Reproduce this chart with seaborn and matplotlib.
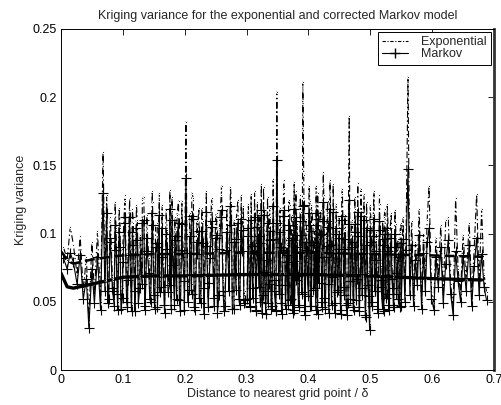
import numpy as np
import pandas as pd
import matplotlib
matplotlib.use("Agg")
import matplotlib.pyplot as plt
import seaborn as sns
from matplotlib.lines import Line2D

# distance to nearest grid point and kriging variances
dist_a = [0.004, 0.010, 0.015, 0.020, 0.026, 0.031, 0.036, 0.041, 0.045, 0.050,
          0.054, 0.059, 0.064, 0.068, 0.071]
markov_a = [0.082, 0.074, 0.086, 0.079, 0.063, 0.084, 0.052, 0.067, 0.031, 0.074,
            0.049, 0.083, 0.044, 0.130, 0.058]
expo_a = [0.090, 0.081, 0.105, 0.092, 0.070, 0.098, 0.058, 0.083, 0.037, 0.094,
          0.055, 0.102, 0.050, 0.160, 0.066]

dist_b = [0.074, 0.077, 0.080, 0.083, 0.086, 0.089, 0.091, 0.094, 0.097, 0.100,
          0.103, 0.106, 0.108, 0.111, 0.114, 0.117, 0.120, 0.122, 0.125, 0.128,
          0.131, 0.134, 0.136, 0.139, 0.142, 0.145, 0.148, 0.150, 0.153, 0.156,
          0.159, 0.162, 0.164, 0.167, 0.170, 0.173, 0.176, 0.178, 0.181, 0.184,
          0.187, 0.190, 0.193, 0.196, 0.199, 0.202, 0.205, 0.208, 0.211, 0.214,
          0.217, 0.220, 0.223, 0.226, 0.229, 0.232, 0.235, 0.238, 0.241, 0.244,
          0.247, 0.250, 0.253, 0.256, 0.259, 0.262, 0.265, 0.268, 0.271, 0.274,
          0.277, 0.280, 0.283, 0.286, 0.289, 0.292, 0.295, 0.298]
markov_b = [0.115, 0.052, 0.094, 0.060, 0.047, 0.088, 0.056, 0.101, 0.045, 0.079,
            0.108, 0.050, 0.066, 0.112, 0.043, 0.092, 0.058, 0.104, 0.049, 0.085,
            0.063, 0.110, 0.044, 0.097, 0.071, 0.050, 0.106, 0.055, 0.090, 0.046,
            0.114, 0.061, 0.083, 0.048, 0.100, 0.057, 0.118, 0.045, 0.077, 0.095,
            0.052, 0.108, 0.043, 0.088, 0.065, 0.141, 0.050, 0.098, 0.056, 0.111,
            0.044, 0.085, 0.102, 0.049, 0.093, 0.060, 0.116, 0.046, 0.082, 0.105,
            0.053, 0.097, 0.042, 0.089, 0.112, 0.058, 0.047, 0.101, 0.070, 0.120,
            0.045, 0.094, 0.059, 0.108, 0.048, 0.087, 0.103, 0.051]
expo_b = [0.128, 0.058, 0.110, 0.068, 0.052, 0.104, 0.063, 0.119, 0.050, 0.092,
          0.124, 0.056, 0.077, 0.126, 0.048, 0.108, 0.066, 0.121, 0.055, 0.099,
          0.072, 0.127, 0.049, 0.114, 0.082, 0.057, 0.123, 0.062, 0.106, 0.052,
          0.130, 0.070, 0.097, 0.054, 0.117, 0.064, 0.132, 0.051, 0.090, 0.112,
          0.059, 0.124, 0.048, 0.103, 0.075, 0.182, 0.057, 0.115, 0.063, 0.126,
          0.050, 0.100, 0.119, 0.055, 0.109, 0.068, 0.131, 0.052, 0.096, 0.122,
          0.060, 0.113, 0.047, 0.104, 0.128, 0.066, 0.053, 0.118, 0.081, 0.134,
          0.051, 0.110, 0.067, 0.125, 0.054, 0.102, 0.120, 0.058]

dist_b2 = [0.0755, 0.0795, 0.0835, 0.0875, 0.0915, 0.0955, 0.0995, 0.1035, 0.1075, 0.1115,
           0.1155, 0.1195, 0.1235, 0.1275, 0.1315, 0.1355, 0.1395, 0.1435, 0.1475, 0.1515,
           0.1555, 0.1595, 0.1635, 0.1675, 0.1715, 0.1755, 0.1795, 0.1835, 0.1875, 0.1915,
           0.1955, 0.1995, 0.2035, 0.2075, 0.2115, 0.2155, 0.2195, 0.2235, 0.2275, 0.2315,
           0.2355, 0.2395, 0.2435, 0.2475, 0.2515, 0.2555, 0.2595, 0.2635, 0.2675, 0.2715,
           0.2755, 0.2795, 0.2835, 0.2875, 0.2915, 0.2955]
markov_b2 = [0.049, 0.097, 0.058, 0.106, 0.044, 0.090, 0.053, 0.112, 0.046, 0.084,
             0.101, 0.043, 0.095, 0.060, 0.108, 0.047, 0.087, 0.052, 0.115, 0.045,
             0.093, 0.057, 0.104, 0.042, 0.089, 0.062, 0.110, 0.048, 0.098, 0.051,
             0.107, 0.044, 0.086, 0.059, 0.113, 0.046, 0.094, 0.053, 0.102, 0.041,
             0.091, 0.064, 0.109, 0.047, 0.099, 0.055, 0.117, 0.043, 0.088, 0.058,
             0.106, 0.045, 0.096, 0.052, 0.111, 0.049]
expo_b2 = [0.055, 0.112, 0.066, 0.123, 0.050, 0.104, 0.060, 0.128, 0.052, 0.097,
           0.118, 0.049, 0.110, 0.069, 0.125, 0.053, 0.101, 0.059, 0.131, 0.051,
           0.108, 0.065, 0.121, 0.048, 0.103, 0.071, 0.127, 0.054, 0.114, 0.058,
           0.124, 0.050, 0.100, 0.068, 0.130, 0.052, 0.109, 0.060, 0.119, 0.047,
           0.106, 0.074, 0.126, 0.053, 0.115, 0.063, 0.135, 0.049, 0.102, 0.066,
           0.123, 0.051, 0.111, 0.059, 0.128, 0.055]

dist_c = [0.301, 0.303, 0.306, 0.308, 0.310, 0.313, 0.315, 0.317, 0.320, 0.322,
          0.324, 0.327, 0.329, 0.331, 0.334, 0.336, 0.338, 0.341, 0.343, 0.345,
          0.347, 0.349, 0.352, 0.354, 0.356, 0.359, 0.361, 0.363, 0.366, 0.368,
          0.370, 0.373, 0.375, 0.377, 0.380, 0.382, 0.384, 0.387, 0.389, 0.391,
          0.394, 0.396, 0.398, 0.401, 0.403, 0.405, 0.408, 0.410, 0.412, 0.415,
          0.417, 0.419, 0.422, 0.424, 0.426, 0.429, 0.431, 0.433, 0.436, 0.438,
          0.440, 0.443, 0.445, 0.447, 0.450, 0.452, 0.454, 0.457, 0.459, 0.461,
          0.464, 0.466, 0.468, 0.471, 0.473, 0.475, 0.478, 0.480, 0.482, 0.485,
          0.487, 0.489, 0.492, 0.494, 0.496, 0.499, 0.501, 0.503, 0.506, 0.508,
          0.510, 0.513, 0.515, 0.517, 0.520, 0.522, 0.524, 0.527, 0.529, 0.531,
          0.534, 0.536, 0.538, 0.541, 0.543, 0.545, 0.548, 0.550]
markov_c = [0.052, 0.104, 0.046, 0.091, 0.060, 0.112, 0.043, 0.085, 0.098, 0.050,
            0.117, 0.055, 0.072, 0.041, 0.108, 0.063, 0.095, 0.047, 0.120, 0.058,
            0.044, 0.154, 0.062, 0.101, 0.049, 0.088, 0.113, 0.045, 0.079, 0.106,
            0.051, 0.097, 0.042, 0.118, 0.066, 0.090, 0.048, 0.109, 0.056, 0.120,
            0.040, 0.094, 0.071, 0.115, 0.047, 0.102, 0.059, 0.087, 0.044, 0.111,
            0.064, 0.099, 0.046, 0.123, 0.053, 0.083, 0.105, 0.042, 0.092, 0.068,
            0.116, 0.049, 0.100, 0.057, 0.089, 0.041, 0.110, 0.061, 0.096, 0.048,
            0.049, 0.125, 0.052, 0.090, 0.044, 0.107, 0.067, 0.098, 0.046, 0.113,
            0.055, 0.086, 0.040, 0.104, 0.062, 0.029, 0.094, 0.050, 0.111, 0.058,
            0.081, 0.045, 0.103, 0.066, 0.092, 0.043, 0.100, 0.056, 0.087, 0.048,
            0.097, 0.060, 0.046, 0.090, 0.071, 0.052, 0.085, 0.047]
expo_c = [0.058, 0.122, 0.051, 0.108, 0.068, 0.131, 0.048, 0.101, 0.115, 0.056,
          0.136, 0.062, 0.083, 0.046, 0.127, 0.072, 0.112, 0.053, 0.140, 0.066,
          0.050, 0.204, 0.071, 0.119, 0.055, 0.104, 0.133, 0.051, 0.092, 0.125,
          0.057, 0.114, 0.047, 0.138, 0.076, 0.107, 0.054, 0.128, 0.063, 0.211,
          0.045, 0.111, 0.082, 0.135, 0.053, 0.121, 0.067, 0.103, 0.050, 0.130,
          0.073, 0.117, 0.052, 0.145, 0.060, 0.098, 0.124, 0.047, 0.109, 0.078,
          0.136, 0.055, 0.118, 0.064, 0.105, 0.046, 0.129, 0.070, 0.114, 0.054,
          0.056, 0.186, 0.059, 0.107, 0.050, 0.127, 0.077, 0.116, 0.052, 0.133,
          0.062, 0.102, 0.045, 0.123, 0.071, 0.034, 0.111, 0.056, 0.131, 0.066,
          0.096, 0.051, 0.122, 0.076, 0.109, 0.048, 0.118, 0.063, 0.103, 0.054,
          0.115, 0.069, 0.052, 0.107, 0.082, 0.059, 0.101, 0.053]

dist_c2 = [0.3024, 0.3049, 0.3074, 0.3099, 0.3124, 0.3149, 0.3174, 0.3199, 0.3224, 0.3249,
           0.3274, 0.3299, 0.3324, 0.3349, 0.3374, 0.3399, 0.3424, 0.3449, 0.3474, 0.3499,
           0.3524, 0.3549, 0.3574, 0.3599, 0.3624, 0.3649, 0.3674, 0.3699, 0.3724, 0.3749,
           0.3774, 0.3799, 0.3824, 0.3849, 0.3874, 0.3899, 0.3924, 0.3949, 0.3974, 0.3999,
           0.4024, 0.4049, 0.4074, 0.4099, 0.4124, 0.4149, 0.4174, 0.4199, 0.4224, 0.4249,
           0.4274, 0.4299, 0.4324, 0.4349, 0.4374, 0.4399, 0.4424, 0.4449, 0.4474, 0.4499,
           0.4524, 0.4549, 0.4574, 0.4599, 0.4624, 0.4649, 0.4674, 0.4699, 0.4724, 0.4749,
           0.4774, 0.4799, 0.4824, 0.4849, 0.4874, 0.4899, 0.4924, 0.4949, 0.4974, 0.4999,
           0.5024, 0.5049, 0.5074, 0.5099, 0.5124, 0.5149, 0.5174, 0.5199, 0.5224, 0.5249,
           0.5274, 0.5299, 0.5324, 0.5349, 0.5374, 0.5399, 0.5424, 0.5449, 0.5474, 0.5499]
markov_c2 = [0.098, 0.047, 0.110, 0.053, 0.087, 0.044, 0.105, 0.061, 0.093, 0.042,
             0.114, 0.058, 0.081, 0.049, 0.102, 0.045, 0.096, 0.066, 0.043, 0.108,
             0.056, 0.090, 0.041, 0.117, 0.062, 0.084, 0.048, 0.103, 0.052, 0.095,
             0.044, 0.112, 0.069, 0.046, 0.099, 0.057, 0.121, 0.043, 0.088, 0.054,
             0.106, 0.047, 0.092, 0.060, 0.115, 0.041, 0.083, 0.100, 0.050, 0.109,
             0.045, 0.091, 0.063, 0.118, 0.048, 0.086, 0.042, 0.104, 0.059, 0.097,
             0.044, 0.113, 0.055, 0.089, 0.040, 0.107, 0.065, 0.094, 0.046, 0.101,
             0.051, 0.116, 0.043, 0.085, 0.060, 0.110, 0.039, 0.092, 0.054, 0.103,
             0.047, 0.098, 0.058, 0.087, 0.042, 0.109, 0.061, 0.045, 0.096, 0.053,
             0.104, 0.044, 0.090, 0.067, 0.048, 0.100, 0.056, 0.083, 0.046, 0.093]
expo_c2 = [0.114, 0.052, 0.129, 0.060, 0.101, 0.049, 0.123, 0.070, 0.108, 0.047,
           0.134, 0.066, 0.094, 0.055, 0.119, 0.050, 0.112, 0.076, 0.048, 0.127,
           0.063, 0.105, 0.046, 0.139, 0.071, 0.097, 0.053, 0.121, 0.058, 0.111,
           0.049, 0.131, 0.080, 0.051, 0.116, 0.065, 0.143, 0.048, 0.102, 0.061,
           0.124, 0.052, 0.107, 0.069, 0.135, 0.046, 0.096, 0.117, 0.056, 0.128,
           0.050, 0.106, 0.072, 0.139, 0.054, 0.100, 0.047, 0.122, 0.067, 0.113,
           0.049, 0.133, 0.062, 0.103, 0.045, 0.126, 0.075, 0.110, 0.051, 0.118,
           0.057, 0.137, 0.048, 0.098, 0.069, 0.129, 0.044, 0.107, 0.061, 0.121,
           0.053, 0.114, 0.066, 0.101, 0.047, 0.128, 0.070, 0.050, 0.112, 0.059,
           0.122, 0.049, 0.105, 0.077, 0.054, 0.117, 0.063, 0.096, 0.051, 0.108]

dist_d = [0.553, 0.556, 0.558, 0.561, 0.564, 0.567, 0.570, 0.573, 0.576, 0.579,
          0.583, 0.586, 0.589, 0.592, 0.595, 0.599, 0.603, 0.606, 0.610, 0.614,
          0.618, 0.622, 0.626, 0.630, 0.634, 0.638, 0.642, 0.646, 0.650, 0.655,
          0.660, 0.664, 0.668, 0.672, 0.676, 0.680, 0.684, 0.688]
markov_d = [0.096, 0.050, 0.088, 0.147, 0.055, 0.092, 0.047, 0.081, 0.062, 0.099,
            0.045, 0.086, 0.058, 0.094, 0.104, 0.052, 0.044, 0.083, 0.061, 0.090,
            0.049, 0.078, 0.095, 0.056, 0.040, 0.087, 0.065, 0.050, 0.084, 0.058,
            0.092, 0.047, 0.076, 0.097, 0.055, 0.085, 0.061, 0.051]
expo_d = [0.112, 0.056, 0.102, 0.215, 0.062, 0.109, 0.052, 0.094, 0.070, 0.118,
          0.050, 0.100, 0.066, 0.110, 0.135, 0.058, 0.049, 0.097, 0.069, 0.106,
          0.054, 0.110, 0.112, 0.063, 0.045, 0.126, 0.074, 0.056, 0.099, 0.066,
          0.108, 0.053, 0.089, 0.129, 0.062, 0.118, 0.070, 0.057]

# thick mean curves
trend_x = [0.0, 0.005, 0.01, 0.02, 0.03, 0.05, 0.08, 0.1, 0.15, 0.2, 0.3, 0.4, 0.5, 0.6, 0.68]
trend_markov = [0.071, 0.066, 0.061, 0.060, 0.061, 0.063, 0.066, 0.068, 0.069, 0.069,
                0.070, 0.070, 0.069, 0.067, 0.066]
trend_expo = [0.087, 0.084, 0.080, 0.078, 0.079, 0.081, 0.083, 0.084, 0.085, 0.085,
              0.086, 0.086, 0.085, 0.084, 0.083]

df = pd.DataFrame({
    "dist": dist_a + dist_b + dist_b2 + dist_c + dist_c2 + dist_d,
    "markov": markov_a + markov_b + markov_b2 + markov_c + markov_c2 + markov_d,
    "expo": expo_a + expo_b + expo_b2 + expo_c + expo_c2 + expo_d,
}).sort_values("dist")
trend = pd.DataFrame({"dist": trend_x, "markov": trend_markov, "expo": trend_expo})

sns.set_style("white")
plt.rcParams["font.family"] = ["Liberation Sans", "DejaVu Sans"]
FS = 9

fig = plt.figure(figsize=(5.02, 4.05), dpi=100)
ax = fig.add_axes([0.1215, 0.0864, 0.8625, 0.842])

dashdot = (0, (6, 2.5, 1.2, 2.5))

# thick curves underneath, data on top
sns.lineplot(data=trend, x="dist", y="expo", ax=ax, estimator=None, sort=False,
             color="black", linewidth=1.8, linestyle=(0, (4, 2)), zorder=1)
sns.lineplot(data=trend, x="dist", y="markov", ax=ax, estimator=None, sort=False,
             color="black", linewidth=2.4, zorder=1)
sns.lineplot(data=df, x="dist", y="expo", ax=ax, estimator=None, sort=False,
             color="black", linewidth=0.8, linestyle=dashdot, zorder=2)
ax.lines[-1].set_marker(".")
ax.lines[-1].set_markersize(3)
sns.lineplot(data=df, x="dist", y="markov", ax=ax, estimator=None, sort=False,
             color="black", linewidth=0.8, linestyle="-", zorder=3)
ax.lines[-1].set_marker("+")
ax.lines[-1].set_markersize(7)
ax.lines[-1].set_markeredgewidth(0.8)
ax.lines[-1].set_markeredgecolor("black")

ax.set_xlim(0, 0.7)
ax.set_ylim(0, 0.25)
ax.set_xticks([0, 0.1, 0.2, 0.3, 0.4, 0.5, 0.6, 0.7])
ax.set_xticklabels(["0", "0.1", "0.2", "0.3", "0.4", "0.5", "0.6", "0.7"])
ax.set_yticks([0, 0.05, 0.1, 0.15, 0.2, 0.25])
ax.set_yticklabels(["0", "0.05", "0.1", "0.15", "0.2", "0.25"])
ax.tick_params(direction="in", length=4, width=0.6, top=True, right=True,
               labelsize=FS, colors="black", pad=3)
for side, sp in ax.spines.items():
    sp.set_color("black")
    sp.set_linewidth(0.7)
ax.spines["right"].set_linewidth(2.0)
ax.spines["right"].set_color("#333333")

ax.set_title("Kriging variance for the exponential and corrected Markov model",
             fontsize=FS, pad=7)
ax.set_xlabel("Distance to nearest grid point / \u03b4", fontsize=FS, labelpad=1)
ax.set_ylabel("Kriging variance", fontsize=FS, labelpad=4)

handles = [
    Line2D([], [], color="black", linewidth=0.8, linestyle=(0, (3, 1.5, 1, 1.5))),
    Line2D([], [], color="black", linewidth=0.8, marker="+", markersize=7),
]
leg = ax.legend(handles, ["Exponential", "Markov"], loc="upper right",
                fontsize=FS, frameon=True, fancybox=False, framealpha=1,
                edgecolor="black", borderpad=0.35, handlelength=2.1,
                handletextpad=1.0, labelspacing=0.0, borderaxespad=0.25)
leg.get_frame().set_linewidth(0.7)

fig.savefig("out.png", dpi=100)
